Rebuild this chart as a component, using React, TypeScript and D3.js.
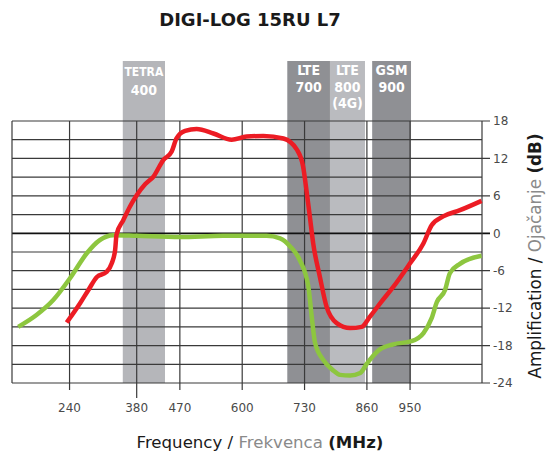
import { useEffect, useRef } from 'react';
import * as d3 from 'd3';

// frequency (MHz) / gain (dB)
const redFreq = [234, 262, 280, 297, 317, 328, 335, 338, 352, 366, 380, 398, 415, 435, 453, 463, 481, 505, 540, 578, 609, 644, 686, 714, 727, 734, 741, 748, 762, 776, 797, 825, 849, 866, 890, 915, 950, 978, 995, 1019, 1054, 1099];
const redDb = [-14.3, -11.2, -9, -7, -6.2, -4.8, -2.7, -0.2, 2.1, 4.3, 6.1, 7.9, 9.1, 11.7, 13.1, 15.2, 16.4, 16.7, 16, 15, 15.5, 15.6, 15.2, 13.4, 10.7, 6.9, 2.7, -1.6, -7, -11.8, -14.4, -15.2, -15, -13.4, -11, -8.6, -4.8, -1.6, 1.3, 2.7, 3.7, 5.2];

const greenFreq = [133, 171, 206, 241, 276, 303, 331, 380, 470, 560, 651, 679, 700, 720, 738, 745, 752, 769, 790, 804, 825, 846, 860, 884, 915, 953, 978, 995, 1006, 1023, 1033, 1054, 1099];
const greenDb = [-15, -13.1, -10.7, -7.2, -3.2, -1.1, -0.3, -0.4, -0.6, -0.4, -0.4, -0.8, -2.1, -4.3, -8.6, -13.4, -17.6, -20.3, -22, -22.7, -22.8, -22.4, -20.9, -18.8, -17.8, -17.3, -16, -13.6, -11, -9.1, -6.4, -4.9, -3.6];

const bandLabels = [['TETRA', '400'], ['LTE', '700'], ['LTE', '800', '(4G)'], ['GSM', '900']];
const bandStart = [351, 694, 783, 871];
const bandEnd = [439, 783, 856, 952];

const xTicks = [240, 380, 470, 600, 730, 860, 950];
const yTicks = [18, 12, 6, 0, -6, -12, -18, -24];
const yGrid = d3.range(-24, 19, 3);

const bandColors = ['#b5b6ba', '#8f9094', '#babbbf', '#8f9094'];

export default function App() {
  const svgRef = useRef<SVGSVGElement>(null);
  const width = 549;
  const height = 453;

  useEffect(() => {
    if (!svgRef.current) return;
    const svg = d3.select(svgRef.current);
    svg.selectAll('*').remove();

    const left = 12, right = 482, top = 121, bottom = 383;
    const bandTop = 61;
    const font = "'DejaVu Sans', Verdana, sans-serif";
    const condensed = "'DejaVu Sans Condensed', 'DejaVu Sans', sans-serif";

    const x = d3.scaleLinear().domain([120, 1100]).range([left, right]);
    const y = d3.scaleLinear().domain([-24, 18]).range([bottom, top]);

    // title
    svg.append('text')
      .attr('x', 250).attr('y', 26)
      .attr('text-anchor', 'middle')
      .style('font-family', font).style('font-weight', 'bold').style('font-size', '18px')
      .style('fill', '#1a1a1a')
      .text('DIGI-LOG 15RU L7');

    // frequency bands
    const bands = svg.append('g');
    bandLabels.forEach((lines, i) => {
      const x0 = x(bandStart[i]), x1 = x(bandEnd[i]);
      bands.append('rect')
        .attr('x', x0).attr('y', bandTop)
        .attr('width', x1 - x0).attr('height', bottom - bandTop)
        .attr('fill', bandColors[i]);
      const cx = (x0 + x1) / 2;
      const isTetra = lines[0] === 'TETRA';
      lines.forEach((t, j) => {
        bands.append('text')
          .attr('x', cx)
          .attr('y', isTetra ? 76 + j * 19 : 75 + j * 16.5)
          .attr('text-anchor', 'middle')
          .style('font-family', condensed).style('font-stretch', 'condensed')
          .style('font-weight', 'bold')
          .style('font-size', isTetra && j === 0 ? '12px' : '14px')
          .style('fill', '#ffffff')
          .text(t);
      });
    });

    // grid
    const grid = svg.append('g').attr('stroke', '#3a3a3a').attr('stroke-width', 1.2);
    yGrid.forEach(v => {
      const major = v % 6 === 0;
      grid.append('line')
        .attr('x1', left).attr('x2', major ? right + 8 : right)
        .attr('y1', y(v)).attr('y2', y(v))
        .attr('stroke', v === 0 ? '#111' : null)
        .attr('stroke-width', v === 0 ? 1.8 : null);
    });
    xTicks.forEach(v => {
      grid.append('line')
        .attr('x1', x(v)).attr('x2', x(v))
        .attr('y1', top).attr('y2', bottom + (v === 380 ? 15 : 7));
    });
    grid.append('line').attr('x1', left).attr('x2', left).attr('y1', top).attr('y2', bottom);
    grid.append('line').attr('x1', right).attr('x2', right).attr('y1', top).attr('y2', bottom);

    // tick labels
    svg.append('g').selectAll('text')
      .data(xTicks)
      .enter().append('text')
      .attr('x', d => x(d)).attr('y', 412)
      .attr('text-anchor', 'middle')
      .style('font-family', font).style('font-size', '12px').style('fill', '#4a4a4a')
      .text(d => String(d));

    svg.append('g').selectAll('text')
      .data(yTicks)
      .enter().append('text')
      .attr('x', right + 11).attr('y', d => y(d))
      .attr('dy', '0.36em')
      .style('font-family', font).style('font-size', '12px').style('fill', '#4a4a4a')
      .text(d => String(d));

    // curves
    const line = d3.line<[number, number]>()
      .x(d => x(d[0]))
      .y(d => y(d[1]))
      .curve(d3.curveMonotoneX);

    const green = greenFreq.map((f, i) => [f, greenDb[i]] as [number, number]);
    const red = redFreq.map((f, i) => [f, redDb[i]] as [number, number]);

    svg.append('path')
      .datum(green)
      .attr('fill', 'none')
      .attr('stroke', '#8dc63f')
      .attr('stroke-width', 4.5)
      .attr('stroke-linejoin', 'round')
      .attr('d', line);

    svg.append('path')
      .datum(red)
      .attr('fill', 'none')
      .attr('stroke', '#ec1c24')
      .attr('stroke-width', 4.5)
      .attr('stroke-linejoin', 'round')
      .attr('d', line);

    // axis titles
    const xt = svg.append('text')
      .attr('x', 260).attr('y', 448)
      .attr('text-anchor', 'middle')
      .style('font-family', font).style('font-size', '16.6px').style('fill', '#1a1a1a');
    xt.append('tspan').text('Frequency / ');
    xt.append('tspan').style('fill', '#8a8a8a').text('Frekvenca ');
    xt.append('tspan').style('font-weight', 'bold').text('(MHz)');

    const yt = svg.append('text')
      .attr('transform', 'translate(541,256) rotate(-90)')
      .attr('text-anchor', 'middle')
      .style('font-family', font).style('font-size', '16.8px').style('fill', '#1a1a1a');
    yt.append('tspan').text('Amplification / ');
    yt.append('tspan').style('fill', '#8a8a8a').text('Ojačanje ');
    yt.append('tspan').style('font-weight', 'bold').text('(dB)');
  }, []);

  return (
    <svg
      ref={svgRef}
      width={width}
      height={height}
      style={{ position: 'absolute', left: 0, top: 0, background: '#ffffff' }}
    />
  );
}
